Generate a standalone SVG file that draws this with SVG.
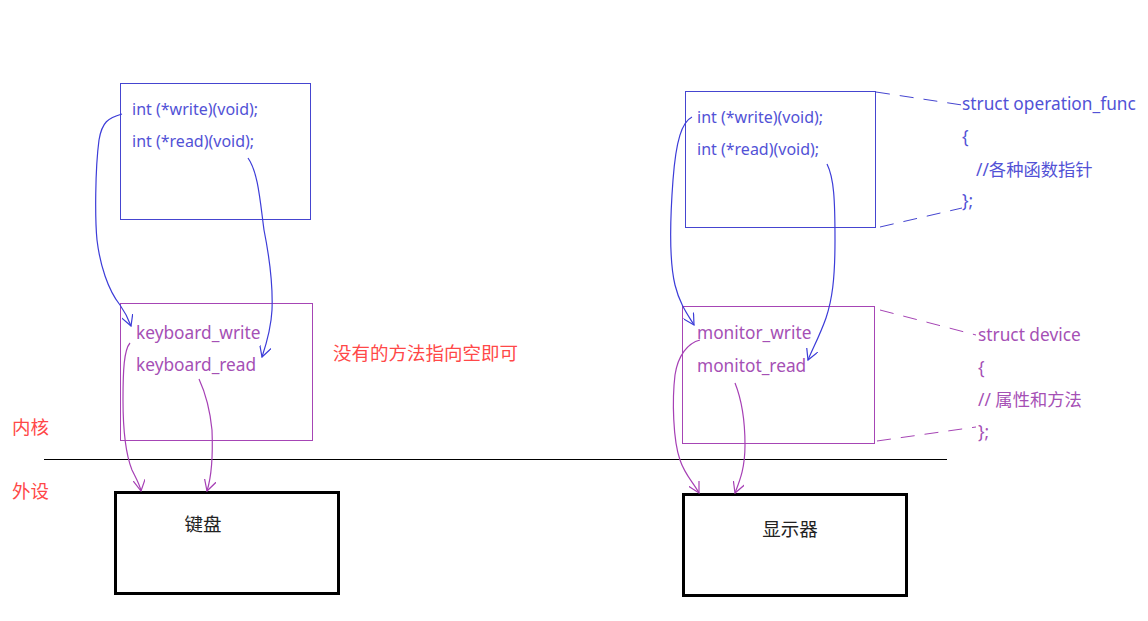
<svg xmlns="http://www.w3.org/2000/svg" width="1148" height="621" viewBox="0 0 1148 621">
<style>
text{font-family:"Noto Sans","Noto Sans CJK SC",sans-serif;font-size:16px}
.bt{fill:#5252d6}
.bt2{fill:#5252d6;font-size:17.3px}
.pt{fill:#a550b5;font-size:17.3px}
.rt{fill:#ff4848;font-size:18.5px}
.kt{fill:#222;font-size:18.5px}
.bbox{fill:none;stroke:#4545d0;stroke-width:1}
.pbox{fill:none;stroke:#a645b5;stroke-width:1}
.dev{fill:none;stroke:#000;stroke-width:3}
.bl{fill:none;stroke:#3c3cd8;stroke-width:1.2}
.pl{fill:none;stroke:#a640b5;stroke-width:1.2}
.bd{fill:none;stroke:#4545d0;stroke-width:1;stroke-dasharray:14 10}
.pd{fill:none;stroke:#a645b5;stroke-width:1;stroke-dasharray:14 10}
</style>
<defs>
<marker id="ab" viewBox="0 0 12 12" refX="11" refY="6" markerWidth="12" markerHeight="12" markerUnits="userSpaceOnUse" orient="auto"><path d="M0,0 L11,6 L0,12" fill="none" stroke="#3c3cd8" stroke-width="1.2"/></marker>
<marker id="ap" viewBox="0 0 12 12" refX="11" refY="6" markerWidth="12" markerHeight="12" markerUnits="userSpaceOnUse" orient="auto"><path d="M0,0 L11,6 L0,12" fill="none" stroke="#a640b5" stroke-width="1.2"/></marker>
</defs>
<rect width="1148" height="621" fill="#fff"/>
<line x1="44" y1="459.5" x2="947" y2="459.5" stroke="#000" stroke-width="1"/>
<text class="rt" x="12" y="434">内核</text>
<text class="rt" x="12" y="498">外设</text>
<g id="kfunc">
<rect class="bbox" x="120.5" y="83.5" width="190" height="136"/>
<text class="bt" x="132" y="115">int (*write)(void);</text>
<text class="bt" x="132" y="147">int (*read)(void);</text>
</g>
<g id="kdev">
<rect class="pbox" x="120.5" y="303.5" width="192" height="137"/>
<text class="pt" x="136" y="339">keyboard_write</text>
<text class="pt" x="136" y="371">keyboard_read</text>
</g>
<text class="rt" x="333" y="360">没有的方法指向空即可</text>
<g id="mfunc">
<rect class="bbox" x="685.5" y="91.5" width="190" height="136"/>
<text class="bt" x="697" y="123">int (*write)(void);</text>
<text class="bt" x="697" y="155">int (*read)(void);</text>
</g>
<g id="mdev">
<rect class="pbox" x="682.5" y="306.5" width="192" height="137"/>
<text class="pt" x="697" y="339">monitor_write</text>
<text class="pt" x="697" y="372">monitot_read</text>
</g>
<g id="opnote">
<text class="bt2" x="962" y="110">struct operation_func</text>
<text class="bt2" x="962" y="143">{</text>
<text class="bt2" x="976" y="176">//各种函数指针</text>
<text class="bt2" x="962" y="207">};</text>
</g>
<g id="devnote">
<text class="pt" x="978" y="341">struct device</text>
<text class="pt" x="978" y="374">{</text>
<text class="pt" x="978" y="406">// 属性和方法</text>
<text class="pt" x="978" y="438">};</text>
</g>
<g id="keyboard">
<rect class="dev" x="115.5" y="492.5" width="223" height="101"/>
<text class="kt" x="203" y="531" text-anchor="middle">键盘</text>
</g>
<g id="monitor">
<rect class="dev" x="683.5" y="494.5" width="223" height="101"/>
<text class="kt" x="790" y="536" text-anchor="middle">显示器</text>
</g>
<g id="connectors">
<path class="bd" d="M876,92 L962,105"/>
<path class="bd" d="M880,227 L962,208"/>
<path class="pd" d="M880,310 L976,335"/>
<path class="pd" d="M877,441 L976,427"/>
<path class="bl" marker-end="url(#ab)" d="M122,114 C108,118 102,122 99,140 C95,170 95,220 97,240 C100,265 108,290 120,305 C125,312 128,318 131,326"/>
<path class="bl" marker-end="url(#ab)" d="M248,158 C258,172 260,200 264,230 C270,260 273,285 272,310 C271,330 266,345 262,357"/>
<path class="pl" marker-end="url(#ap)" d="M130,343 C124,350 123,370 123,400 C123,430 126,455 132,470 C137,480 140,485 141,491"/>
<path class="pl" marker-end="url(#ap)" d="M199,379 C205,392 210,410 212,430 C213,455 212,475 207,491"/>
<path class="bl" marker-end="url(#ab)" d="M692,117 C682,122 676,140 673,180 C670,220 669,260 675,285 C680,305 688,315 694,325"/>
<path class="bl" marker-end="url(#ab)" d="M827,164 C834,178 835,200 835,240 C835,280 832,300 826,318 C820,335 813,348 808,360"/>
<path class="pl" marker-end="url(#ap)" d="M700,340 C688,343 678,355 675,375 C672,400 673,440 680,460 C685,475 693,482 699,493"/>
<path class="pl" marker-end="url(#ap)" d="M735,383 C741,398 745,420 745,445 C745,468 740,480 735,493"/>
</g>
</svg>
